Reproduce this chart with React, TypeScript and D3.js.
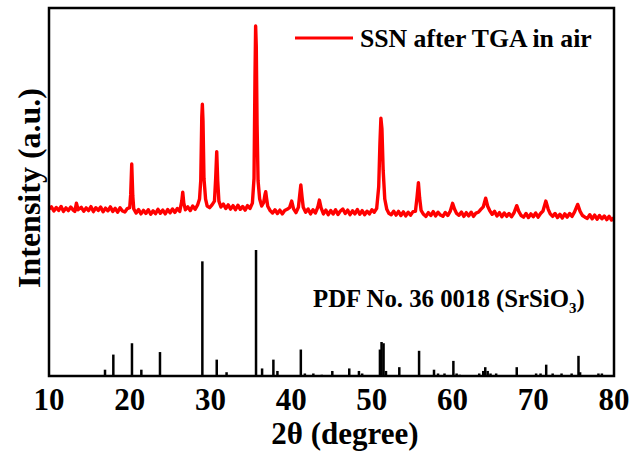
import * as d3 from "d3";

const WIDTH = 633;
const HEIGHT = 455;
const PLOT = { left: 49, right: 614, top: 8, bottom: 376 };

// x axis ticks (2θ, degree)
const X_TICKS = [10, 20, 30, 40, 50, 60, 70, 80];

// measured pattern: SSN after TGA in air, [2θ, intensity a.u.]
const SAMPLE_PATTERN: [number, number][] = [
  [10.0, 112], [10.3, 122], [10.6, 102], [10.9, 119], [11.2, 105], [11.5, 124], [11.8, 100],
  [12.1, 117], [12.4, 104], [12.7, 121], [13.0, 106], [13.2, 100], [13.4, 140], [13.6, 108],
  [14.0, 120], [14.3, 101], [14.6, 117], [14.9, 104], [15.2, 123], [15.5, 99], [15.8, 118],
  [16.1, 105], [16.4, 121], [16.7, 98], [17.0, 116], [17.3, 103], [17.6, 122], [17.9, 100],
  [18.2, 115], [18.5, 96], [18.8, 118], [19.1, 102], [19.4, 97], [19.7, 114], [20.0, 118],
  [20.12, 180], [20.25, 330], [20.38, 175], [20.5, 112], [20.8, 92], [21.1, 109], [21.4, 88],
  [21.7, 105], [22.0, 90], [22.3, 108], [22.6, 86], [22.9, 103], [23.2, 89], [23.5, 110],
  [23.8, 91], [24.1, 106], [24.4, 88], [24.7, 109], [25.0, 93], [25.3, 112], [25.6, 95],
  [25.9, 114], [26.2, 100], [26.45, 150], [26.57, 193], [26.7, 140], [26.9, 108], [27.2, 122],
  [27.5, 104], [27.8, 126], [28.1, 110], [28.4, 130], [28.65, 160], [28.8, 250], [28.93, 560],
  [29.0, 620], [29.08, 540], [29.2, 260], [29.4, 160], [29.6, 126], [29.9, 118], [30.2, 132],
  [30.5, 150], [30.65, 260], [30.78, 390], [30.9, 250], [31.05, 150], [31.3, 121], [31.6, 136],
  [31.9, 114], [32.2, 132], [32.5, 111], [32.8, 128], [33.1, 108], [33.4, 130], [33.7, 110],
  [34.0, 124], [34.3, 106], [34.6, 128], [34.9, 114], [35.2, 140], [35.4, 260], [35.52, 750],
  [35.6, 1000], [35.68, 900], [35.78, 520], [35.9, 250], [36.1, 160], [36.35, 126], [36.6, 144],
  [36.75, 180], [36.85, 196], [36.95, 165], [37.1, 125], [37.4, 104], [37.7, 92], [38.0, 108],
  [38.3, 90], [38.6, 106], [38.9, 88], [39.2, 104], [39.5, 110], [39.8, 118], [40.07, 150],
  [40.3, 112], [40.6, 94], [40.9, 120], [41.05, 175], [41.2, 228], [41.35, 170], [41.5, 120],
  [41.8, 96], [42.1, 112], [42.4, 88], [42.7, 108], [43.0, 92], [43.3, 120], [43.5, 155],
  [43.7, 118], [44.0, 88], [44.3, 106], [44.6, 84], [44.9, 104], [45.2, 87], [45.5, 108],
  [45.8, 85], [46.1, 102], [46.4, 112], [46.7, 90], [47.0, 106], [47.3, 84], [47.6, 103],
  [47.9, 88], [48.2, 109], [48.5, 86], [48.8, 104], [49.1, 84], [49.4, 101], [49.7, 88],
  [50.0, 108], [50.3, 96], [50.6, 115], [50.85, 220], [51.0, 430], [51.12, 552], [51.25, 500],
  [51.4, 300], [51.6, 160], [51.85, 110], [52.1, 91], [52.4, 84], [52.7, 101], [53.0, 82],
  [53.3, 100], [53.6, 80], [53.9, 98], [54.2, 78], [54.5, 96], [54.8, 82], [55.1, 99],
  [55.4, 100], [55.6, 170], [55.77, 239], [55.92, 165], [56.1, 105], [56.4, 86], [56.7, 76],
  [57.0, 94], [57.3, 80], [57.6, 99], [57.9, 78], [58.2, 96], [58.5, 82], [58.8, 76],
  [59.1, 95], [59.4, 80], [59.7, 100], [60.0, 139], [60.25, 110], [60.5, 90], [60.8, 81],
  [61.1, 97], [61.4, 76], [61.7, 94], [62.0, 78], [62.3, 96], [62.6, 76], [62.9, 92],
  [63.2, 96], [63.5, 110], [63.8, 122], [64.1, 164], [64.35, 125], [64.6, 104], [64.9, 86],
  [65.2, 100], [65.5, 78], [65.8, 94], [66.1, 74], [66.4, 92], [66.7, 76], [67.0, 90],
  [67.3, 74], [67.6, 92], [67.95, 128], [68.2, 100], [68.5, 80], [68.8, 72], [69.1, 90],
  [69.4, 70], [69.7, 88], [70.0, 74], [70.3, 92], [70.6, 72], [70.9, 90], [71.2, 102],
  [71.55, 150], [71.85, 110], [72.1, 88], [72.4, 76], [72.7, 90], [73.0, 70], [73.3, 86],
  [73.6, 68], [73.9, 88], [74.2, 72], [74.5, 90], [74.8, 76], [75.1, 96], [75.5, 134],
  [75.8, 100], [76.1, 80], [76.4, 72], [76.7, 66], [77.0, 84], [77.3, 64], [77.6, 82],
  [77.9, 62], [78.2, 80], [78.5, 64], [78.8, 78], [79.1, 60], [79.4, 76], [79.7, 58], [80.0, 70],
];

// reference card PDF No. 36 0018 (SrSiO3): 2θ positions and relative intensities
const PDF_POSITIONS = [
  16.94, 17.97, 20.28, 21.44, 23.75, 29.0, 30.78, 32.0, 35.65, 36.4, 37.8, 38.3, 41.2, 41.7,
  42.75, 43.8, 45.1, 47.2, 48.4, 48.8, 51.0, 51.2, 51.45, 51.75, 53.4, 55.85, 57.7, 58.2, 59.0,
  60.1, 60.5, 60.9, 63.3, 63.8, 64.05, 64.35, 64.7, 65.4, 67.95, 70.35, 70.9, 71.6, 72.4, 73.5,
  74.75, 75.6, 75.8, 78.07, 78.5,
];
const PDF_INTENSITIES = [
  5, 17, 26, 5, 19, 91, 13, 3, 100, 6, 13, 4, 21, 2,
  2, 1, 4, 6, 4, 2, 21, 27, 26, 4, 7, 20, 5, 2, 2,
  12, 2, 1, 2, 4, 7, 4, 2, 2, 7, 2, 2, 9, 2, 2,
  2, 16, 3, 2, 2,
];

const FONT = "'Liberation Serif', 'Times New Roman', serif";
const RED = "#ff0000";

export default function App() {
  const x = d3.scaleLinear().domain([10, 80]).range([PLOT.left, PLOT.right]);
  // upper half: measured pattern
  const yPattern = d3.scaleLinear().domain([0, 1000]).range([232, 26]);
  // lower half: reference sticks
  const yStick = d3.scaleLinear().domain([0, 100]).range([PLOT.bottom, PLOT.bottom - 126]);

  const line = d3
    .line<[number, number]>()
    .x((d) => x(d[0]))
    .y((d) => yPattern(d[1]));

  return (
    <div style={{ position: "absolute", left: 0, top: 0 }}>
      <svg width={WIDTH} height={HEIGHT} style={{ display: "block", background: "#fff" }}>
        <defs>
          <clipPath id="plot-clip">
            <rect x={PLOT.left} y={PLOT.top} width={PLOT.right - PLOT.left} height={PLOT.bottom - PLOT.top} />
          </clipPath>
        </defs>

        {/* reference sticks */}
        <g>
          {PDF_POSITIONS.map((p, i) => (
            <line
              key={i}
              x1={x(p)}
              x2={x(p)}
              y1={yStick(0)}
              y2={yStick(PDF_INTENSITIES[i])}
              stroke="#000"
              strokeWidth={2.5}
            />
          ))}
        </g>

        {/* measured curve */}
        <path
          d={line(SAMPLE_PATTERN) ?? ""}
          fill="none"
          stroke={RED}
          strokeWidth={3.4}
          strokeLinejoin="round"
          clipPath="url(#plot-clip)"
        />

        {/* frame */}
        <rect
          x={PLOT.left}
          y={PLOT.top}
          width={PLOT.right - PLOT.left}
          height={PLOT.bottom - PLOT.top}
          fill="none"
          stroke="#000"
          strokeWidth={2.5}
        />

        {/* x tick labels */}
        {X_TICKS.map((t) => (
          <text
            key={t}
            x={x(t)}
            y={410}
            textAnchor="middle"
            fontFamily={FONT}
            fontWeight="bold"
            fontSize={31}
            fill="#000">
            {t}
          </text>
        ))}

        {/* axis titles */}
        <text x={345} y={444} textAnchor="middle" fontFamily={FONT} fontWeight="bold" fontSize={31}>
          2θ (degree)
        </text>
        <text
          transform="translate(40,188) rotate(-90)"
          textAnchor="middle"
          fontFamily={FONT}
          fontWeight="bold"
          fontSize={32}>
          Intensity (a.u.)
        </text>

        {/* legend */}
        <line x1={295} x2={353} y1={38} y2={38} stroke={RED} strokeWidth={3} />
        <text x={360} y={47} fontFamily={FONT} fontWeight="bold" fontSize={25.7}>
          SSN after TGA in air
        </text>

        {/* reference card label */}
        <text x={313} y={307} fontFamily={FONT} fontWeight="bold" fontSize={24.8}>
          PDF No. 36 0018 (SrSiO
          <tspan fontSize={15} dy={6}>3</tspan>
          <tspan dy={-6}>)</tspan>
        </text>
      </svg>
    </div>
  );
}
